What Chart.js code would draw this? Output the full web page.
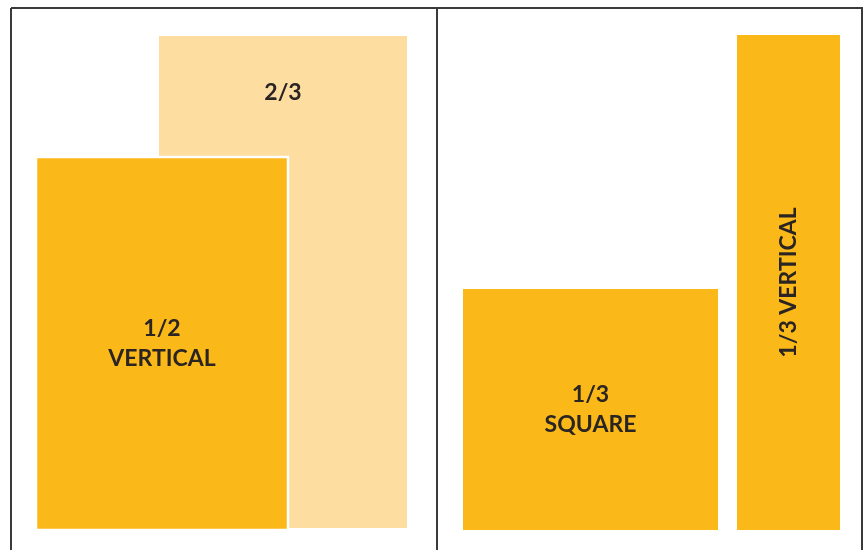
<!DOCTYPE html>
<html lang="en">
<head>
<meta charset="UTF-8">
<title>Ad sizes</title>
<script src="https://cdn.jsdelivr.net/npm/chart.js"></script>
<style>
    html, body { margin: 0; padding: 0; background: #fff; }
    .chart-container { position: relative; width: 866px; height: 550px; }
</style>
</head>
<body>
<div class="chart-container">
    <canvas id="myChart"></canvas>
</div>
<script>
    // page spread in points (x to the right, y downwards)
    const SPREAD_W = 866
    const SPREAD_H = 550

    // ad shapes: label, left, right, top, bottom
    const adNames   = ['2/3', '1/2\nVERTICAL', '1/3\nSQUARE', '1/3 VERTICAL']
    const adLeft    = [159, 36, 463, 737]
    const adRight   = [407, 288, 718, 840]
    const adTop     = [36, 157, 289, 35]
    const adBottom  = [528, 530, 530, 530]

    // page frame: outer box and the gutter
    const frameX = [11, 862, 862, 11, 11]
    const frameY = [8, 8, 560, 560, 8]
    const gutterX = [437, 437]
    const gutterY = [8, 560]

    const COLORS = {
        gold: '#fbb919',
        pale: '#fddda0',
        ink: '#2a2523',
        frame: '#3a3a3a'
    };
    const adFill = [COLORS.pale, COLORS.gold, COLORS.gold, COLORS.gold]

    const rectPoints = (i) => [
        { x: adLeft[i], y: adTop[i] },
        { x: adRight[i], y: adTop[i] },
        { x: adRight[i], y: adBottom[i] },
        { x: adLeft[i], y: adBottom[i] },
        { x: adLeft[i], y: adTop[i] }
    ];

    const datasets = adNames.map((name, i) => ({
        label: name,
        data: rectPoints(i),
        showLine: true,
        fill: 'shape',
        backgroundColor: adFill[i],
        borderColor: i === 1 ? '#ffffff' : adFill[i],
        borderWidth: i === 1 ? 2.5 : 0,
        pointRadius: 0,
        order: 10 - i
    }));

    datasets.push({
        label: 'frame',
        data: frameX.map((x, i) => ({ x: x, y: frameY[i] })),
        showLine: true,
        fill: false,
        borderColor: COLORS.frame,
        borderWidth: 2,
        pointRadius: 0,
        order: 0
    });
    datasets.push({
        label: 'gutter',
        data: gutterX.map((x, i) => ({ x: x, y: gutterY[i] })),
        showLine: true,
        fill: false,
        borderColor: COLORS.frame,
        borderWidth: 2,
        pointRadius: 0,
        order: 0
    });

    // labels in the middle of each ad (2/3 sits in the part the 1/2 doesn't cover)
    const adLabels = {
        id: 'adLabels',
        afterDatasetsDraw(chart) {
            const c = chart.ctx;
            const xs = chart.scales.x, ys = chart.scales.y;
            c.save();
            c.fillStyle = COLORS.ink;
            c.font = 'bold 23px Lato, sans-serif';
            c.textAlign = 'center';
            c.textBaseline = 'middle';
            adNames.forEach((name, i) => {
                const cx = xs.getPixelForValue((adLeft[i] + adRight[i]) / 2);
                let midY = (adTop[i] + adBottom[i]) / 2;
                if (i === 0) midY = (adTop[0] + adTop[1]) / 2 - 4;
                const cy = ys.getPixelForValue(midY);
                if (i === 3) {
                    c.save();
                    c.translate(cx, cy);
                    c.rotate(-Math.PI / 2);
                    c.fillText(name, 0, 0);
                    c.restore();
                    return;
                }
                const lines = name.split('\n');
                const lh = 30;
                lines.forEach((ln, k) => {
                    c.fillText(ln, cx, cy + (k - (lines.length - 1) / 2) * lh);
                });
            });
            c.restore();
        }
    };

    const config = {
        type: 'scatter',
        data: { datasets: datasets },
        options: {
            animation: false,
            responsive: true,
            maintainAspectRatio: false,
            events: [],
            layout: { padding: 0 },
            plugins: {
                legend: { display: false },
                tooltip: { enabled: false },
                title: { display: false }
            },
            scales: {
                x: { type: 'linear', display: false, min: 0, max: SPREAD_W },
                y: { type: 'linear', display: false, min: 0, max: SPREAD_H, reverse: true }
            }
        },
        plugins: [adLabels]
    };

    const ctx = document.getElementById('myChart');
    var chart = new Chart(ctx, config);
</script>
</body>
</html>
